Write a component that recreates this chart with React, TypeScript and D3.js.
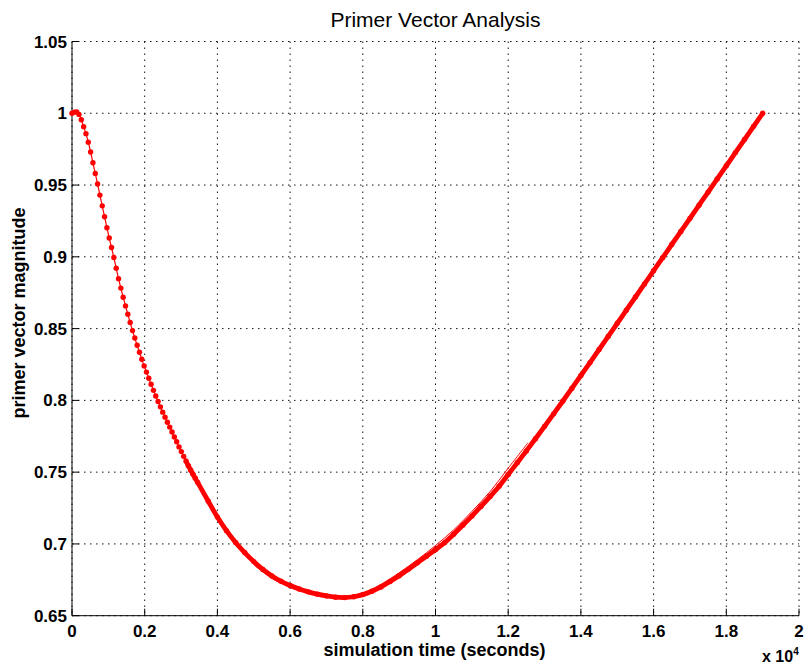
import React from 'react';
import * as d3 from 'd3';

// primer vector magnitude vs simulation time (s)
const earlyTimes = [
  0, 64, 128, 192, 256, 320, 384, 448, 512, 576, 640, 704, 768, 832, 896, 960,
  1024, 1088, 1152, 1216, 1280, 1344, 1408, 1472, 1536, 1600, 1664, 1728, 1792,
  1856, 1920, 1984, 2048, 2112, 2176, 2240, 2304, 2368, 2432, 2496, 2560, 2624,
  2688, 2752, 2816, 2880, 2944, 3008, 3072, 3136, 3200, 3264, 3328, 3392, 3456
];
const earlyMagnitude = [
  1.0, 1.0008, 1.001, 0.9992, 0.9955, 0.9907, 0.9858, 0.9799, 0.973, 0.9655,
  0.9581, 0.9507, 0.943, 0.9355, 0.9279, 0.9203, 0.9131, 0.9065, 0.8995, 0.892,
  0.8848, 0.8782, 0.8718, 0.8658, 0.86, 0.8542, 0.8486, 0.8434, 0.8384, 0.8335,
  0.8286, 0.824, 0.8197, 0.8154, 0.8112, 0.807, 0.803, 0.7992, 0.7955, 0.7918,
  0.7883, 0.7848, 0.7814, 0.778, 0.7745, 0.7712, 0.7676, 0.7643, 0.761, 0.7578,
  0.7545, 0.7515, 0.7486, 0.7457, 0.7429
];
const lateTimes = [
  3750, 4000, 4250, 4500, 4750, 5000, 5250, 5500, 5750, 6000, 6250, 6500, 6750,
  7000, 7250, 7500, 7750, 8000, 8250, 8500, 8750, 9000, 9250, 9500, 9750, 10000,
  10250, 10500, 10750, 11000, 11250, 11500, 11750, 12000, 12250, 12500, 12750,
  13000, 13250, 13500, 13750, 14000, 14250, 14500, 14750, 15000, 15250, 15500,
  15750, 16000, 16250, 16500, 16750, 17000, 17250, 17500, 17750, 18000, 18250,
  18500, 18750, 19000
];
const lateMagnitude = [
  0.7297, 0.7187, 0.7092, 0.701, 0.694, 0.6877, 0.6822, 0.6777, 0.674, 0.671,
  0.6686, 0.6666, 0.665, 0.6638, 0.6629, 0.6626, 0.6632, 0.6647, 0.667, 0.67,
  0.6738, 0.6778, 0.6823, 0.6868, 0.6914, 0.696, 0.7009, 0.7068, 0.713, 0.7194,
  0.7261, 0.733, 0.7402, 0.7484, 0.7565, 0.7648, 0.7733, 0.7819, 0.7906, 0.7994,
  0.8083, 0.8173, 0.8263, 0.8354, 0.8445, 0.8537, 0.8628, 0.872, 0.8811, 0.8903,
  0.8994, 0.9086, 0.9177, 0.9268, 0.936, 0.9451, 0.9543, 0.9634, 0.9726, 0.9817,
  0.9909, 1.0
];
// faint second trace that runs alongside the main one
const traceTimes = [
  5000, 5500, 6000, 6500, 7000, 7500, 8000, 8500, 9000, 9500, 10000,
  10500, 11000, 11500, 12000, 12545
];
const traceMagnitude = [
  0.6855, 0.676, 0.6698, 0.6658, 0.6633, 0.6628, 0.6657, 0.6718,
  0.6799, 0.689, 0.6989, 0.7098, 0.7226, 0.7364, 0.7528, 0.7705
];

const xTicks = [0, 2000, 4000, 6000, 8000, 10000, 12000, 14000, 16000, 18000, 20000];
const xTickLabels = ['0', '0.2', '0.4', '0.6', '0.8', '1', '1.2', '1.4', '1.6', '1.8', '2'];
const yTicks = [0.65, 0.7, 0.75, 0.8, 0.85, 0.9, 0.95, 1.0, 1.05];
const yTickLabels = ['0.65', '0.7', '0.75', '0.8', '0.85', '0.9', '0.95', '1', '1.05'];

type Pt = { t: number; v: number };

const W = 804;
const H = 669;
const left = 72;
const right = 799;
const top = 41.5;
const bottom = 615.7;
const font = '"Liberation Sans", Arial, Helvetica, sans-serif';

export default function App() {
  const x = d3.scaleLinear().domain([0, 20000]).range([left, right]);
  const y = d3.scaleLinear().domain([0.65, 1.05]).range([bottom, top]);

  const early: Pt[] = earlyTimes.map((t, i) => ({ t, v: earlyMagnitude[i] }));
  const late: Pt[] = lateTimes.map((t, i) => ({ t, v: lateMagnitude[i] }));
  const trace: Pt[] = traceTimes.map((t, i) => ({ t, v: traceMagnitude[i] }));
  const all = early.concat(late);

  const line = d3
    .line<Pt>()
    .x(d => x(d.t))
    .y(d => y(d.v))
    .curve(d3.curveCatmullRom);

  // where the dots crowd together they read as one thick band
  const band = early.slice(-6).concat(late);

  return (
    <svg
      width={W}
      height={H}
      style={{ position: 'absolute', left: 0, top: 0, background: '#fff' }}
      fontFamily={font}
    >
      <rect width={W} height={H} fill="#fff" />

      {/* grid */}
      {xTicks.map(t => (
        <line
          key={'gx' + t}
          x1={x(t)}
          x2={x(t)}
          y1={top}
          y2={bottom}
          stroke="#111"
          strokeWidth={1}
          strokeDasharray="1.5,4.5"
        />
      ))}
      {yTicks.map(v => (
        <line
          key={'gy' + v}
          x1={left}
          x2={right}
          y1={y(v)}
          y2={y(v)}
          stroke="#111"
          strokeWidth={1}
          strokeDasharray="1.5,4.5"
        />
      ))}

      {/* axes */}
      <line x1={left} x2={right} y1={bottom} y2={bottom} stroke="#000" strokeWidth={1} />
      <line x1={left} x2={left} y1={top} y2={bottom} stroke="#000" strokeWidth={1} />
      {xTicks.map((t, i) => (
        <g key={'tx' + t}>
          <line x1={x(t)} x2={x(t)} y1={bottom} y2={bottom - 7} stroke="#000" />
          <text
            x={x(t)}
            y={637}
            textAnchor="middle"
            fontSize={17}
            fontWeight="bold"
          >
            {xTickLabels[i]}
          </text>
        </g>
      ))}
      {yTicks.map((v, i) => (
        <g key={'ty' + v}>
          <line x1={left} x2={left + 7} y1={y(v)} y2={y(v)} stroke="#000" />
          <text
            x={left - 5}
            y={y(v)}
            dy="0.36em"
            textAnchor="end"
            fontSize={17}
            fontWeight="bold"
          >
            {yTickLabels[i]}
          </text>
        </g>
      ))}

      {/* data */}
      <path d={line(band) || ''} fill="none" stroke="#ff0000" strokeWidth={4.8} />
      <path d={line(all) || ''} fill="none" stroke="#ff0000" strokeWidth={1.2} />
      {all.map((d, i) => (
        <circle key={'m' + i} cx={x(d.t)} cy={y(d.v)} r={2.7} fill="#ff0000" />
      ))}
      <path d={line(trace) || ''} fill="none" stroke="#ff0000" strokeWidth={1} />

      {/* labels */}
      <text x={(left + right) / 2} y={27} textAnchor="middle" fontSize={21}>
        Primer Vector Analysis
      </text>
      <text x={(left + right) / 2 - 1} y={656} textAnchor="middle" fontSize={18} fontWeight="bold">
        simulation time (seconds)
      </text>
      <text
        transform={`translate(25, 313) rotate(-90)`}
        textAnchor="middle"
        fontSize={18}
        fontWeight="bold"
      >
        primer vector magnitude
      </text>
      <text x={762} y={662} fontSize={16} fontWeight="bold">
        x 10
        <tspan dy={-7} fontSize={10}>
          4
        </tspan>
      </text>
    </svg>
  );
}
